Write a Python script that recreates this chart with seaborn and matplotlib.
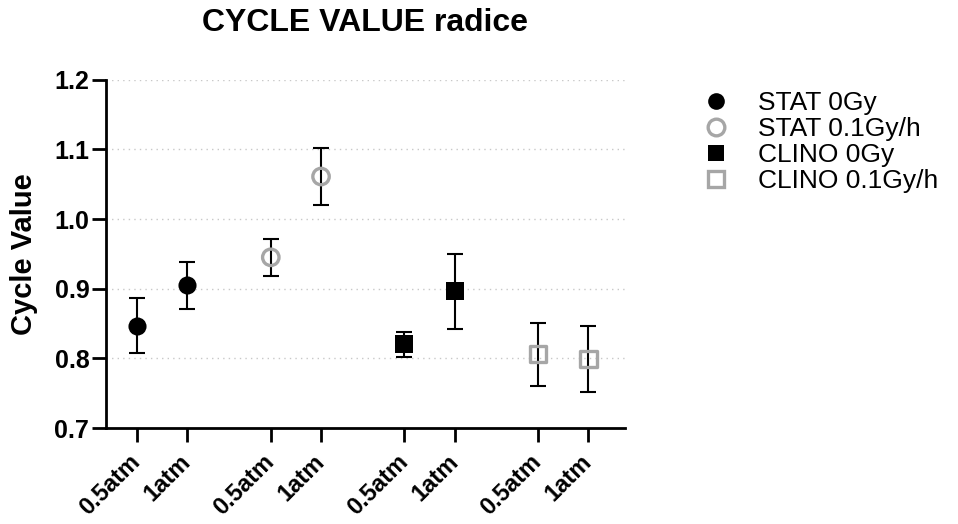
import matplotlib
matplotlib.use("Agg")
import matplotlib.pyplot as plt
from matplotlib.lines import Line2D
import numpy as np
import pandas as pd
import seaborn as sns

# Groups, conditions and summary values (mean and error) for each group
groups = ["STAT 0Gy", "STAT 0.1Gy/h", "CLINO 0Gy", "CLINO 0.1Gy/h"]
pressures = ["0.5atm", "1atm"]

stat_0gy_mean = [0.847, 0.905]
stat_0gy_err = [0.040, 0.034]
stat_01gy_mean = [0.945, 1.061]
stat_01gy_err = [0.027, 0.041]
clino_0gy_mean = [0.820, 0.896]
clino_0gy_err = [0.018, 0.054]
clino_01gy_mean = [0.806, 0.799]
clino_01gy_err = [0.045, 0.047]

yticks = [0.7, 0.8, 0.9, 1.0, 1.1, 1.2]

means = [stat_0gy_mean, stat_01gy_mean, clino_0gy_mean, clino_01gy_mean]
errs = [stat_0gy_err, stat_01gy_err, clino_0gy_err, clino_01gy_err]

# Long-form table; each group gets a pair of slots separated by a gap
group_step = 2.66
rows = []
for g, (name, m, e) in enumerate(zip(groups, means, errs)):
    for i, p in enumerate(pressures):
        rows.append({"group": name, "pressure": p, "mean": m[i], "err": e[i],
                     "xpos": g * group_step + i})
df = pd.DataFrame(rows)

sns.set_theme(style="white")
plt.rcParams["font.family"] = ["Liberation Sans", "DejaVu Sans"]
plt.rcParams["text.color"] = "black"
plt.rcParams["axes.labelcolor"] = "black"
plt.rcParams["xtick.color"] = "black"
plt.rcParams["ytick.color"] = "black"

styles = {
    "STAT 0Gy": dict(marker="o", color="black", filled=True),
    "STAT 0.1Gy/h": dict(marker="o", color="#a6a6a6", filled=False),
    "CLINO 0Gy": dict(marker="s", color="black", filled=True),
    "CLINO 0.1Gy/h": dict(marker="s", color="#a6a6a6", filled=False),
}

fig = plt.figure(figsize=(9.58, 5.24), dpi=100)
ax = fig.add_axes([106 / 958, 96 / 524, 519 / 958, 348.3 / 524])

# dotted horizontal grid
for yv in yticks[1:]:
    ax.axhline(yv, color="#c8c8c8", lw=1.0, ls=(0, (1, 3)), zorder=0)

# error bars
ax.errorbar(df["xpos"], df["mean"], yerr=df["err"], fmt="none",
            ecolor="black", elinewidth=1.5, capsize=6, capthick=1.5, zorder=2)

# markers
for name in groups:
    st = styles[name]
    sub = df[df["group"] == name]
    sns.scatterplot(data=sub, x="xpos", y="mean", ax=ax, marker=st["marker"],
                    color=st["color"], edgecolor=st["color"],
                    linewidth=0 if st["filled"] else 2.4,
                    s=170 if st["filled"] else 140, legend=False, zorder=3)
    if not st["filled"]:
        ax.collections[-1].set_facecolor("none")

ax.set_xlim(-0.62, 9.71)
ax.set_ylim(0.7, 1.2)
ax.set_yticks(yticks)
ax.set_yticklabels([f"{v:.1f}" for v in yticks], fontsize=18, fontweight="bold")
ax.set_xticks(df["xpos"])
ax.set_xticklabels(df["pressure"], fontsize=17, fontweight="bold",
                   rotation=45, ha="right", va="center", rotation_mode="anchor")
ax.set_xlabel("")
ax.set_ylabel("Cycle Value", fontsize=21, fontweight="bold", labelpad=12)

for side in ["top", "right"]:
    ax.spines[side].set_visible(False)
for side in ["left", "bottom"]:
    ax.spines[side].set_linewidth(2.0)
    ax.spines[side].set_color("black")
ax.tick_params(axis="both", which="major", direction="out", length=10,
               width=2.0, color="black", labelcolor="black", left=True, bottom=True)
ax.tick_params(axis="y", pad=2)
ax.tick_params(axis="x", pad=12)

# title centred over the axes
fig.text((106 + 519 / 2) / 958, 1 - 23 / 524, "CYCLE VALUE radice",
         fontsize=23, fontweight="bold", ha="center", va="center")

handles = []
for name in groups:
    st = styles[name]
    handles.append(Line2D([], [], ls="none", marker=st["marker"], markersize=12,
                          markerfacecolor=st["color"] if st["filled"] else "none",
                          markeredgecolor=st["color"],
                          markeredgewidth=0 if st["filled"] else 2.4))
fig.legend(handles, groups, loc="upper left", bbox_to_anchor=(700 / 958, 1 - 91 / 524),
           frameon=False, fontsize=19, handlelength=1.2, handletextpad=1.0,
           labelspacing=0.08, borderaxespad=0, borderpad=0)

fig.savefig("out.png", dpi=100)
